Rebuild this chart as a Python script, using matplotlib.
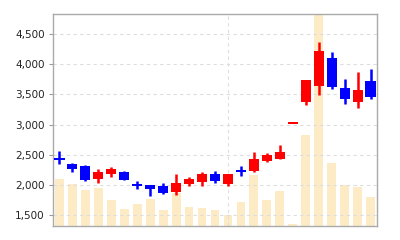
import numpy as np
import matplotlib
matplotlib.use('Agg')
import matplotlib.pyplot as plt

# daily prices (open, high, low, close) and volume
opens = [2440, 2340, 2320, 2100, 2175, 2215, 2005, 1995, 1985, 1880, 2015, 2040, 2185,
         2015, 2235, 2235, 2400, 2430, 3020, 3375, 3640, 4100, 3605, 3380, 3715]
highs = [2555, 2370, 2330, 2270, 2300, 2230, 2070, 2000, 2030, 2185, 2130, 2205, 2235,
         2180, 2315, 2550, 2530, 2660, 3020, 3740, 4365, 4195, 3750, 3870, 3915]
lows = [2345, 2210, 2060, 2025, 2130, 2075, 1925, 1820, 1845, 1835, 1975, 1985, 2030,
        1975, 2150, 2215, 2375, 2420, 3020, 3320, 3485, 3590, 3345, 3270, 3430]
closes = [2430, 2265, 2075, 2215, 2260, 2080, 1995, 1930, 1865, 2030, 2100, 2185, 2070,
          2175, 2225, 2430, 2500, 2540, 3020, 3740, 4215, 3630, 3415, 3580, 3455]
volumes = [47000, 42000, 36000, 38000, 26000, 17000, 22000, 27000, 16000, 33000, 19000,
           18000, 16000, 11000, 24000, 51000, 26000, 35000, 2000, 91000, 260000, 63000,
           41000, 39000, 29000]
month_start = 13

yticks = [1500, 2000, 2500, 3000, 3500, 4000, 4500]

opens = np.array(opens, dtype=float)
closes = np.array(closes, dtype=float)
highs = np.array(highs, dtype=float)
lows = np.array(lows, dtype=float)
x = np.arange(len(opens))

fig = plt.figure(figsize=(4, 2.4), dpi=100)
ax = fig.add_axes([0.1325, 0.0583, 0.81, 0.8834])
ax2 = ax.twinx()

# volume bars in the background
ax2.bar(x, volumes, width=0.68, color='#FDEBC6', zorder=1)
ax2.set_ylim(0, 212000)
ax2.axis('off')
ax.set_zorder(ax2.get_zorder() + 1)
ax.patch.set_visible(False)

colors = np.where(closes > opens, '#FF0000', '#0000FF')
colors[closes == opens] = '#FF0000'
ax.vlines(x, lows, highs, colors=colors, linewidth=1.8, zorder=3)
body_h = np.abs(closes - opens)
min_h = 35
bottoms = np.minimum(opens, closes)
mid = (opens + closes) / 2
bottoms = np.where(body_h < min_h, mid - min_h / 2, bottoms)
body_h = np.maximum(body_h, min_h)
ax.bar(x, body_h, bottom=bottoms, width=0.78, color=colors, zorder=4)

ax.set_xlim(-0.5, len(x) - 0.5)
ax.set_ylim(1317, 4833)
ax.set_yticks(yticks)
ax.set_yticklabels([f'{v:,}' for v in yticks])
ax.set_xticks([])
ax.yaxis.grid(True, linestyle=(0, (3, 3)), color='#DDDDDD', linewidth=0.8)
ax.axvline(month_start, linestyle=(0, (3, 3)), color='#DDDDDD', linewidth=0.8, zorder=0)
ax.tick_params(axis='y', length=3, width=0.8, color='#999999', labelsize=7.5,
               labelcolor='#222222', pad=3)
for s in ax.spines.values():
    s.set_color('#AAAAAA')
    s.set_linewidth(1)

fig.savefig('out.png', dpi=100)
